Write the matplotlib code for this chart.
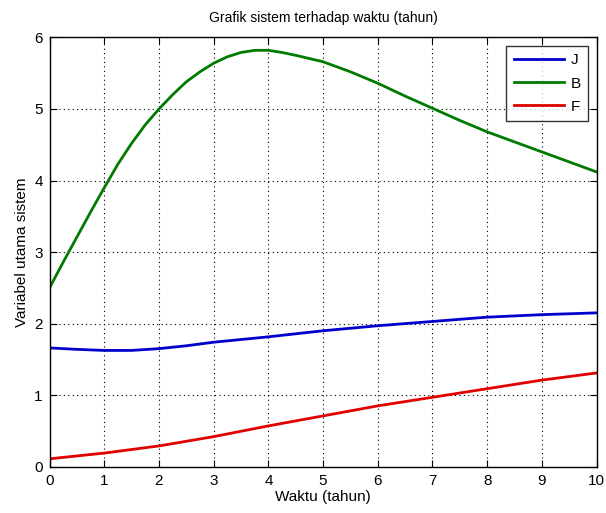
import numpy as np
import matplotlib.pyplot as plt

plt.rcParams['font.family'] = ['Liberation Sans', 'DejaVu Sans']

# data
t_b = [0, 0.25, 0.5, 0.75, 1, 1.25, 1.5, 1.75, 2, 2.25, 2.5, 2.75, 3, 3.25, 3.5, 3.75,
       4, 4.25, 4.5, 5, 5.5, 6, 6.5, 7, 7.5, 8, 8.5, 9, 9.5, 10]
B = [2.5, 2.86, 3.21, 3.56, 3.9, 4.23, 4.52, 4.78, 5.0, 5.2, 5.38, 5.52, 5.64, 5.73, 5.79, 5.82,
     5.82, 5.79, 5.75, 5.66, 5.52, 5.36, 5.18, 5.01, 4.84, 4.68, 4.54, 4.40, 4.26, 4.12]

t = [0, 0.5, 1, 1.5, 2, 2.5, 3, 4, 5, 6, 7, 8, 9, 10]
J = [1.66, 1.64, 1.625, 1.625, 1.65, 1.69, 1.74, 1.815, 1.90, 1.97, 2.03, 2.09, 2.125, 2.15]

t_f = [0, 1, 2, 3, 4, 5, 6, 7, 8, 9, 10]
F = [0.11, 0.19, 0.29, 0.42, 0.57, 0.71, 0.85, 0.97, 1.09, 1.21, 1.31]

fig = plt.figure(figsize=(6.06, 5.13), dpi=100)
ax = fig.add_axes([0.0818, 0.0903, 0.9027, 0.8367])

ax.plot(t, J, color='#0000cc', linewidth=2.0, label='J')
ax.plot(t_b, B, color='#007a00', linewidth=2.0, label='B')
ax.plot(t_f, F, color='#e00000', linewidth=2.0, label='F')

ax.set_xlim(0, 10)
ax.set_ylim(0, 6)
ax.set_xticks(range(0, 11))
ax.set_yticks(range(0, 7))
ax.grid(True, color='black', linestyle=(0, (1, 3)), linewidth=0.8)
ax.tick_params(direction='in', top=True, right=True, length=5, labelsize=11, pad=5)
for s in ax.spines.values():
    s.set_linewidth(1.0)

ax.set_title('Grafik sistem terhadap waktu (tahun)', fontsize=10, pad=11)
ax.set_xlabel('Waktu (tahun)', fontsize=11, labelpad=2)
ax.set_ylabel('Variabel utama sistem', fontsize=11, labelpad=4)

leg = ax.legend(loc='upper right', fontsize=11, frameon=True, fancybox=False,
                edgecolor='black', handlelength=3.3, borderaxespad=0.55,
                labelspacing=0.6, handletextpad=0.4, borderpad=0.5)
leg.get_frame().set_linewidth(1.0)

fig.savefig('out.png', dpi=100)
